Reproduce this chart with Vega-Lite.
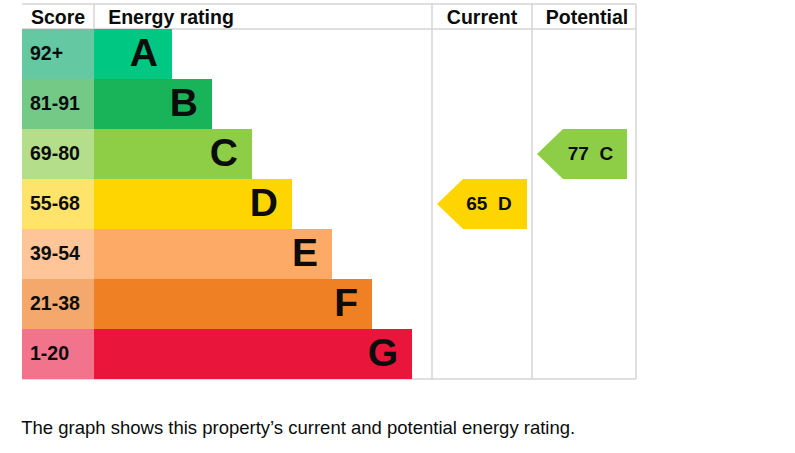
{
  "$schema": "https://vega.github.io/schema/vega-lite/v6.json",
  "width": 614,
  "height": 375,
  "autosize": {"type": "none"},
  "padding": {"left": 22, "top": 4, "right": 159, "bottom": 74},
  "background": "white",
  "title": {
    "text": "The graph shows this property’s current and potential energy rating.",
    "orient": "bottom",
    "anchor": "start",
    "offset": 39,
    "font": "Liberation Sans",
    "fontSize": 18.5,
    "fontWeight": "normal",
    "color": "#0b0c0c"
  },
  "datasets": {
    "bands": [
      {"band": "A", "score": "92+", "left": 0, "split": 72, "end": 150, "top": 0.5, "bottom": 1.5, "mid": 1},
      {"band": "B", "score": "81-91", "left": 0, "split": 72, "end": 190, "top": 1.5, "bottom": 2.5, "mid": 2},
      {"band": "C", "score": "69-80", "left": 0, "split": 72, "end": 230, "top": 2.5, "bottom": 3.5, "mid": 3},
      {"band": "D", "score": "55-68", "left": 0, "split": 72, "end": 270, "top": 3.5, "bottom": 4.5, "mid": 4},
      {"band": "E", "score": "39-54", "left": 0, "split": 72, "end": 310, "top": 4.5, "bottom": 5.5, "mid": 5},
      {"band": "F", "score": "21-38", "left": 0, "split": 72, "end": 350, "top": 5.5, "bottom": 6.5, "mid": 6},
      {"band": "G", "score": "1-20", "left": 0, "split": 72, "end": 390, "top": 6.5, "bottom": 7.5, "mid": 7}
    ]
  },
  "layer": [
    {
      "data": {
        "values": [
          {"x": 0, "x2": 614, "y": 0, "y2": 0},
          {"x": 0, "x2": 614, "y": 0.5, "y2": 0.5},
          {"x": 0, "x2": 614, "y": 7.5, "y2": 7.5},
          {"x": 72, "x2": 72, "y": 0, "y2": 0.5},
          {"x": 410, "x2": 410, "y": 0, "y2": 7.5},
          {"x": 510, "x2": 510, "y": 0, "y2": 7.5},
          {"x": 614, "x2": 614, "y": 0, "y2": 7.5}
        ]
      },
      "mark": {"type": "rule", "color": "#d4d4d4", "strokeWidth": 1.5},
      "encoding": {
        "x": {"field": "x", "type": "quantitative", "scale": {"domain": [0, 614], "nice": false, "zero": false}, "axis": null},
        "x2": {"field": "x2"},
        "y": {"field": "y", "type": "quantitative", "scale": {"domain": [0, 7.5], "reverse": true, "nice": false, "zero": false}, "axis": null},
        "y2": {"field": "y2"}
      }
    },
    {
      "data": {"name": "bands"},
      "mark": {"type": "rect"},
      "encoding": {
        "x": {"field": "left", "type": "quantitative", "axis": null},
        "x2": {"field": "split"},
        "y": {"field": "top", "type": "quantitative", "axis": null},
        "y2": {"field": "bottom"},
        "fill": {
          "field": "band",
          "type": "nominal",
          "legend": null,
          "scale": {
            "domain": ["A", "B", "C", "D", "E", "F", "G"],
            "range": ["#64c8a3", "#74c987", "#b5de8b", "#ffe36a", "#fdc598", "#f5a86c", "#f2738c"]
          }
        }
      }
    },
    {
      "data": {"name": "bands"},
      "mark": {"type": "rect"},
      "encoding": {
        "x": {"field": "split", "type": "quantitative", "axis": null},
        "x2": {"field": "end"},
        "y": {"field": "top", "type": "quantitative", "axis": null},
        "y2": {"field": "bottom"},
        "color": {
          "field": "band",
          "type": "nominal",
          "legend": null,
          "scale": {
            "domain": ["A", "B", "C", "D", "E", "F", "G"],
            "range": ["#00c781", "#19b459", "#8dce46", "#ffd500", "#fcaa65", "#ef8023", "#e9153b"]
          }
        }
      }
    },
    {
      "data": {"name": "bands"},
      "mark": {"type": "text", "align": "left", "baseline": "middle", "dx": 8, "font": "Liberation Sans", "fontSize": 19.5, "fontWeight": "bold", "color": "#0b0c0c"},
      "encoding": {
        "x": {"field": "left", "type": "quantitative", "axis": null},
        "y": {"field": "mid", "type": "quantitative", "axis": null},
        "text": {"field": "score", "type": "nominal"}
      }
    },
    {
      "data": {"name": "bands"},
      "mark": {"type": "text", "align": "right", "baseline": "middle", "dx": -14, "font": "Liberation Sans", "fontSize": 39, "fontWeight": "bold", "color": "#0b0c0c"},
      "encoding": {
        "x": {"field": "end", "type": "quantitative", "axis": null},
        "y": {"field": "mid", "type": "quantitative", "axis": null},
        "text": {"field": "band", "type": "nominal"}
      }
    },
    {
      "data": {
        "values": [
          {"label": "Score", "x": 36, "y": 0.27},
          {"label": "Energy rating", "x": 149, "y": 0.27},
          {"label": "Current", "x": 460, "y": 0.27},
          {"label": "Potential", "x": 565, "y": 0.27}
        ]
      },
      "mark": {"type": "text", "align": "center", "baseline": "middle", "font": "Liberation Sans", "fontSize": 19.5, "fontWeight": "bold", "color": "#0b0c0c"},
      "encoding": {
        "x": {"field": "x", "type": "quantitative", "axis": null},
        "y": {"field": "y", "type": "quantitative", "axis": null},
        "text": {"field": "label", "type": "nominal"}
      }
    },
    {
      "data": {
        "values": [
          {"col": "Current", "rating": "D", "x": 415, "y": 4, "y2": 4},
          {"col": "Current", "rating": "D", "x": 441, "y": 3.5, "y2": 4.5},
          {"col": "Current", "rating": "D", "x": 505, "y": 3.5, "y2": 4.5},
          {"col": "Potential", "rating": "C", "x": 515, "y": 3, "y2": 3},
          {"col": "Potential", "rating": "C", "x": 541, "y": 2.5, "y2": 3.5},
          {"col": "Potential", "rating": "C", "x": 605, "y": 2.5, "y2": 3.5}
        ]
      },
      "mark": {"type": "area", "interpolate": "linear"},
      "encoding": {
        "x": {"field": "x", "type": "quantitative", "axis": null},
        "y": {"field": "y", "type": "quantitative", "stack": null, "axis": null},
        "y2": {"field": "y2"},
        "color": {"field": "rating", "type": "nominal", "legend": null},
        "detail": {"field": "col", "type": "nominal"}
      }
    },
    {
      "data": {
        "values": [
          {"col": "Current", "label": "65\u00a0 D", "x": 467, "y": 4},
          {"col": "Potential", "label": "77\u00a0 C", "x": 568.5, "y": 3}
        ]
      },
      "mark": {"type": "text", "align": "center", "baseline": "middle", "font": "Liberation Sans", "fontSize": 19, "fontWeight": "bold", "color": "#0b0c0c"},
      "encoding": {
        "x": {"field": "x", "type": "quantitative", "axis": null},
        "y": {"field": "y", "type": "quantitative", "axis": null},
        "text": {"field": "label", "type": "nominal"}
      }
    }
  ],
  "config": {"view": {"stroke": null}}
}
